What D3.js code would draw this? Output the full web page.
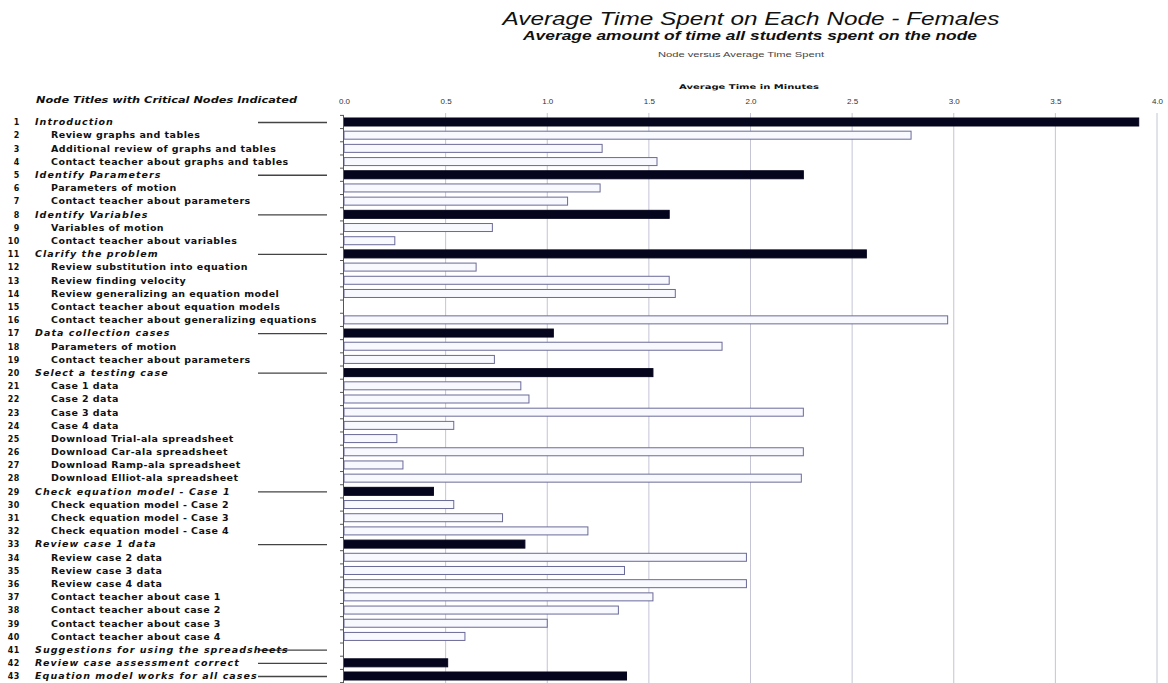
<!DOCTYPE html>
<html>
<head>
<meta charset="utf-8">
<script src="https://cdn.jsdelivr.net/npm/d3@7"></script>
<style>
  body { margin: 0; background: #fff; }
  text { font-family: "DejaVu Sans", "Liberation Sans", sans-serif; fill: #111; }
</style>
</head>
<body>
<svg id="chart" width="1168" height="683"></svg>
<script>
const width = 1168;
const height = 683;
const margin = { top: 115.4, right: 11, bottom: 0.4, left: 344 };

// node numbers, titles, and which ones are critical
const nodeTitles = [
  "Introduction", "Review graphs and tables", "Additional review of graphs and tables",
  "Contact teacher about graphs and tables", "Identify Parameters", "Parameters of motion",
  "Contact teacher about parameters", "Identify Variables", "Variables of motion",
  "Contact teacher about variables", "Clarify the problem", "Review substitution into equation",
  "Review finding velocity", "Review generalizing an equation model",
  "Contact teacher about equation models", "Contact teacher about generalizing equations",
  "Data collection cases", "Parameters of motion", "Contact teacher about parameters",
  "Select a testing case", "Case 1 data", "Case 2 data", "Case 3 data", "Case 4 data",
  "Download Trial-ala spreadsheet", "Download Car-ala spreadsheet",
  "Download Ramp-ala spreadsheet", "Download Elliot-ala spreadsheet",
  "Check equation model - Case 1", "Check equation model - Case 2",
  "Check equation model - Case 3", "Check equation model - Case 4",
  "Review case 1 data", "Review case 2 data", "Review case 3 data", "Review case 4 data",
  "Contact teacher about case 1", "Contact teacher about case 2",
  "Contact teacher about case 3", "Contact teacher about case 4",
  "Suggestions for using the spreadsheets", "Review case assessment correct",
  "Equation model works for all cases"
];
const criticalNodes = [1, 5, 8, 11, 17, 20, 29, 33, 41, 42, 43];
// average minutes per node
const avgMinutes = [
  3.91, 2.79, 1.27, 1.54, 2.26, 1.26, 1.10, 1.60, 0.73, 0.25,
  2.57, 0.65, 1.60, 1.63, 0, 2.97, 1.03, 1.86, 0.74, 1.52,
  0.87, 0.91, 2.26, 0.54, 0.26, 2.26, 0.29, 2.25, 0.44, 0.54,
  0.78, 1.20, 0.89, 1.98, 1.38, 1.98, 1.52, 1.35, 1.00, 0.595,
  0, 0.51, 1.39
];
const xTicks = [0, 0.5, 1, 1.5, 2, 2.5, 3, 3.5, 4];

const data = nodeTitles.map((t, i) => ({
  num: i + 1,
  title: t,
  value: avgMinutes[i],
  critical: criticalNodes.includes(i + 1)
}));

const svg = d3.select("#chart");

let x = d3.scaleLinear().domain([0, 4]).range([margin.left, width - margin.right]);
let y = d3.scaleBand()
  .domain(data.map(d => d.num))
  .range([margin.top, height - margin.bottom])
  .padding(0);

// titles
function fitText(sel, len) {
  sel.attr("textLength", len).attr("lengthAdjust", "spacingAndGlyphs");
}
svg.append("text").attr("x", 751).attr("y", 25).attr("text-anchor", "middle")
  .style("font-family", "Liberation Sans, Arial, sans-serif")
  .style("font-style", "italic").style("font-size", "19px")
  .text("Average Time Spent on Each Node - Females").call(fitText, 497);
svg.append("text").attr("x", 750).attr("y", 40).attr("text-anchor", "middle")
  .style("font-family", "Liberation Sans, Arial, sans-serif")
  .style("font-style", "italic").style("font-weight", "bold").style("font-size", "12px")
  .text("Average amount of time all students spent on the node").call(fitText, 454);
svg.append("text").attr("x", 741).attr("y", 57).attr("text-anchor", "middle")
  .style("font-family", "Liberation Sans, Arial, sans-serif")
  .style("font-size", "6.5px").style("fill", "#444")
  .text("Node versus Average Time Spent").call(fitText, 166);

// gridlines
svg.append("g")
  .selectAll("line")
  .data(xTicks.slice(1))
  .enter()
  .append("line")
  .attr("x1", d => x(d)).attr("x2", d => x(d))
  .attr("y1", 113).attr("y2", height)
  .attr("stroke", "#c4c4d4").attr("stroke-width", 1);

// top axis
const xAxis = svg.append("g").attr("transform", `translate(0, 104)`)
  .call(d3.axisTop(x).tickValues(xTicks).tickFormat(d3.format(".1f")).tickSize(0).tickPadding(0));
xAxis.select(".domain").remove();
xAxis.selectAll("text")
  .style("font-family", "Liberation Sans Narrow, Liberation Sans, sans-serif")
  .style("font-size", "8px").style("fill", "#333");

svg.append("text").attr("x", 749).attr("y", 89).attr("text-anchor", "middle")
  .style("font-size", "6.5px").style("font-weight", "bold")
  .text("Average Time in Minutes").call(fitText, 140);

// left header
svg.append("text").attr("x", 36).attr("y", 103)
  .style("font-size", "8.5px").style("font-weight", "bold").style("font-style", "italic")
  .text("Node Titles with Critical Nodes Indicated").call(fitText, 261);

// bars
const u = svg.append("g").selectAll("rect").data(data);
u.enter()
  .append("rect")
  .attr("x", x(0))
  .attr("y", d => y(d.num) + y.bandwidth() / 2 - 4)
  .attr("width", d => x(d.value) - x(0))
  .attr("height", 8)
  .attr("fill", d => (d.critical ? "#05051e" : "#f8f8ff"))
  .attr("stroke", d => (d.critical ? "#05051e" : "#6a6a98"))
  .attr("stroke-width", 1)
  .style("display", d => (d.value > 0 ? null : "none"));

// left axis with ticks at band edges
const bandEdges = d3.range(data.length + 1).map(i => margin.top + i * y.bandwidth());
svg.append("line")
  .attr("x1", x(0) - 0.5).attr("x2", x(0) - 0.5)
  .attr("y1", margin.top).attr("y2", height)
  .attr("stroke", "#555");
svg.append("g").selectAll("line").data(bandEdges).enter().append("line")
  .attr("x1", x(0) - 4).attr("x2", x(0))
  .attr("y1", d => d).attr("y2", d => d)
  .attr("stroke", "#555");

// row labels
const rows = svg.append("g").selectAll("g").data(data).enter().append("g")
  .attr("transform", d => `translate(0, ${y(d.num) + y.bandwidth() / 2})`);
rows.filter(d => d.critical).append("line")
  .attr("x1", 258).attr("x2", 327).attr("y1", 0.5).attr("y2", 0.5)
  .attr("stroke", "#444").attr("stroke-width", 1.3);
rows.append("text")
  .attr("x", 20).attr("y", 3.3).attr("text-anchor", "end")
  .style("font-size", "8px").style("font-weight", "bold")
  .style("letter-spacing", "0.6px")
  .text(d => d.num);
rows.append("text")
  .attr("x", d => (d.critical ? 35 : 51)).attr("y", 3.3)
  .style("font-size", "9.5px").style("font-weight", "bold")
  .style("font-style", d => (d.critical ? "italic" : "normal"))
  .style("letter-spacing", d => (d.critical ? "1.05px" : "0.45px"))
  .text(d => d.title);
</script>
</body>
</html>
